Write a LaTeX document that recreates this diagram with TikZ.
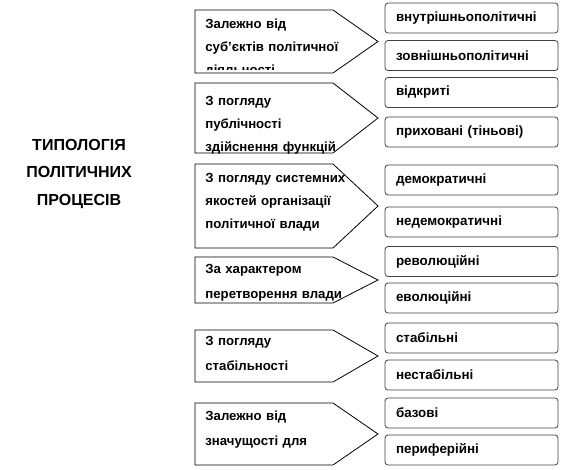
\documentclass[tikz,border=0pt]{standalone}
\usepackage{fontspec}
\setmainfont{Liberation Sans}

\tikzset{
  vyd/.style={draw=black!75, rounded corners=3pt, minimum height=30pt,
    text width=151pt, inner xsep=11pt, align=left,
    font=\fontsize{13.4}{15}\selectfont\bfseries},
  oznaka/.style={anchor=base west, inner sep=0pt, text width=175pt,
    align=left, font=\fontsize{13.2}{23}\selectfont\bfseries},
}

\begin{document}
\begin{tikzpicture}[x=1pt, y=-1pt, line width=0.8pt]
  \useasboundingbox (0,0) rectangle (562,469);

  \node[align=center, inner sep=0pt, anchor=base,
    font=\fontsize{16}{27.5}\selectfont\bfseries] (typ) at (79,205)
    {ТИПОЛОГІЯ\\ПОЛІТИЧНИХ\\ПРОЦЕСІВ};

  % критерії
  \draw (195,10)  -- (333,10)  -- (378,41.5) -- (333,73)  -- (195,73)  -- cycle;
  \draw (195,83)  -- (333,83)  -- (378,118)  -- (333,153) -- (195,153) -- cycle;
  \draw (195,164) -- (333,164) -- (378,206)  -- (333,248) -- (195,248) -- cycle;
  \draw (195,257) -- (333,257) -- (378,280)  -- (333,303) -- (195,303) -- cycle;
  \draw (195,330) -- (333,330) -- (378,356)  -- (333,382) -- (195,382) -- cycle;
  \draw (195,403) -- (333,403) -- (378,434)  -- (333,465) -- (195,465) -- cycle;

  \begin{scope}
    \clip (195,10) rectangle (378,69);
    \node[oznaka] (k1) at (205,28) {Залежно від\\суб’єктів політичної\\діяльності};
  \end{scope}
  \node[oznaka] (k2) at (205,105) {З погляду\\публічності\\здійснення функцій};
  \node[oznaka] (k3) at (205,182) {З погляду системних\\якостей організації\\політичної влади};
  \node[oznaka, font=\fontsize{13.2}{25}\selectfont\bfseries] (k4) at (205,273)
    {За характером\\перетворення влади};
  \node[oznaka, font=\fontsize{13.2}{25}\selectfont\bfseries] (k5) at (205,345)
    {З погляду\\стабільності};
  \node[oznaka, font=\fontsize{13.2}{25}\selectfont\bfseries] (k6) at (205,420)
    {Залежно від\\значущості для};

  % види
  \node[vyd] (v1)  at (471.5,18)  {внутрішньополітичні};
  \node[vyd] (v2)  at (471.5,55.5) {зовнішньополітичні};
  \node[vyd] (v3)  at (471.5,92.5) {відкриті};
  \node[vyd] (v4)  at (471.5,132) {приховані (тіньові)};
  \node[vyd] (v5)  at (471.5,180) {демократичні};
  \node[vyd] (v6)  at (471.5,222) {недемократичні};
  \node[vyd] (v7)  at (471.5,261.5) {революційні};
  \node[vyd] (v8)  at (471.5,298) {еволюційні};
  \node[vyd] (v9)  at (471.5,338) {стабільні};
  \node[vyd] (v10) at (471.5,375) {нестабільні};
  \node[vyd] (v11) at (471.5,413) {базові};
  \node[vyd] (v12) at (471.5,450) {периферійні};
\end{tikzpicture}
\end{document}
